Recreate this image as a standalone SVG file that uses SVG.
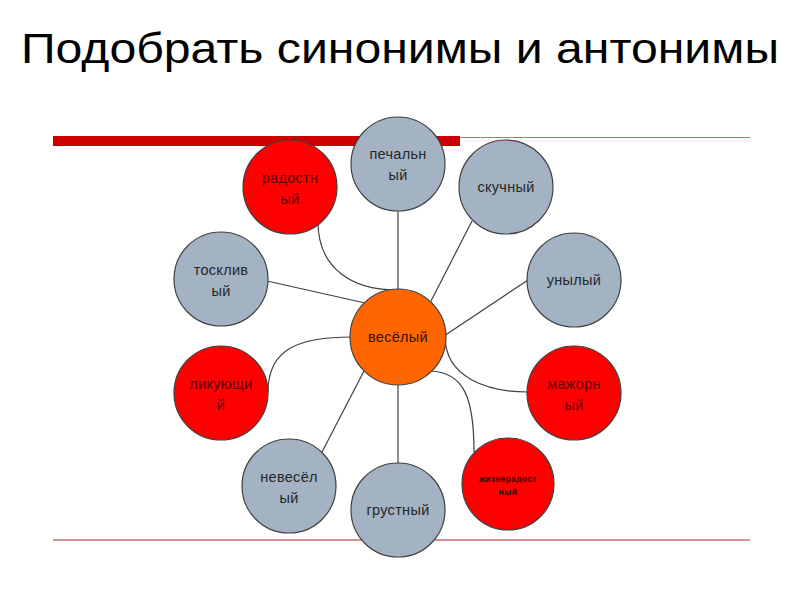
<svg xmlns="http://www.w3.org/2000/svg" width="800" height="600" viewBox="0 0 800 600">
<style>
.n circle{stroke:#404040;stroke-width:1.2}
.g circle{fill:#a3b3c3}
.r circle{fill:#ff0000}
.o circle{fill:#ff6600}
text{font-family:"Liberation Sans",Arial,sans-serif;font-size:14.5px;text-anchor:middle;letter-spacing:0.3px}
.g text{fill:#262626}
.r text{fill:#600000}
.o text{fill:#301500}
#connectors path,#connectors line{stroke:#404040;stroke-width:1.2;fill:none}
</style>
<rect width="800" height="600" fill="#fff"/>
<text x="400" y="63" style="font-size:43px;fill:#000;letter-spacing:0" textLength="758" lengthAdjust="spacingAndGlyphs">Подобрать синонимы и антонимы</text>
<line x1="460" y1="137.5" x2="750" y2="137.5" stroke="#d86868" stroke-width="1"/>
<rect x="53" y="136" width="407" height="10" fill="#cc0000"/>
<line x1="53" y1="540" x2="750" y2="540" stroke="#d89090" stroke-width="2"/>
<g id="connectors">
<line x1="398" y1="210" x2="398" y2="290"/>
<path d="M318,222 C318,268 352,290 396,290"/>
<line x1="267" y1="281" x2="365" y2="303"/>
<line x1="472" y1="221" x2="430" y2="303"/>
<line x1="528" y1="280" x2="444" y2="336"/>
<path d="M445,336 C445,378 488,392 528,392"/>
<path d="M430,371 C464,372 474,398 474,452"/>
<path d="M268,392 C268,348 300,337 352,337"/>
<line x1="322" y1="452" x2="364" y2="371"/>
<line x1="398" y1="385" x2="398" y2="463"/>
</g>
<g id="n-pechalny" class="n g"><circle cx="398" cy="164" r="47"/><text x="398" y="159">печальн</text><text x="398" y="180">ый</text></g>
<g id="n-radostny" class="n r"><circle cx="290" cy="187" r="47"/><text x="290" y="183">радостн</text><text x="290" y="204">ый</text></g>
<g id="n-skuchny" class="n g"><circle cx="506" cy="187" r="47"/><text x="506" y="192">скучный</text></g>
<g id="n-tosklivy" class="n g"><circle cx="221" cy="279" r="47"/><text x="221" y="275">тосклив</text><text x="221" y="296">ый</text></g>
<g id="n-unyly" class="n g"><circle cx="574" cy="280" r="47"/><text x="574" y="285">унылый</text></g>
<g id="n-vesely" class="n o"><circle cx="398" cy="337" r="48"/><text x="398" y="342">весёлый</text></g>
<g id="n-likuyushchy" class="n r"><circle cx="221" cy="393" r="47"/><text x="221" y="389">ликующи</text><text x="221" y="410">й</text></g>
<g id="n-mazhorny" class="n r"><circle cx="574" cy="393" r="47"/><text x="574" y="389">мажорн</text><text x="574" y="410">ый</text></g>
<g id="n-nevesely" class="n g"><circle cx="289" cy="486" r="47"/><text x="289" y="482">невесёл</text><text x="289" y="503">ый</text></g>
<g id="n-grustny" class="n g"><circle cx="398" cy="510" r="47"/><text x="398" y="515">грустный</text></g>
<g id="n-zhizneradostny" class="n r"><circle cx="508" cy="484" r="46"/><text x="508" y="482" style="font-size:8.5px;font-weight:bold;fill:#400000">жизнерадост</text><text x="508" y="495" style="font-size:8.5px;font-weight:bold;fill:#400000">ный</text></g>
</svg>
